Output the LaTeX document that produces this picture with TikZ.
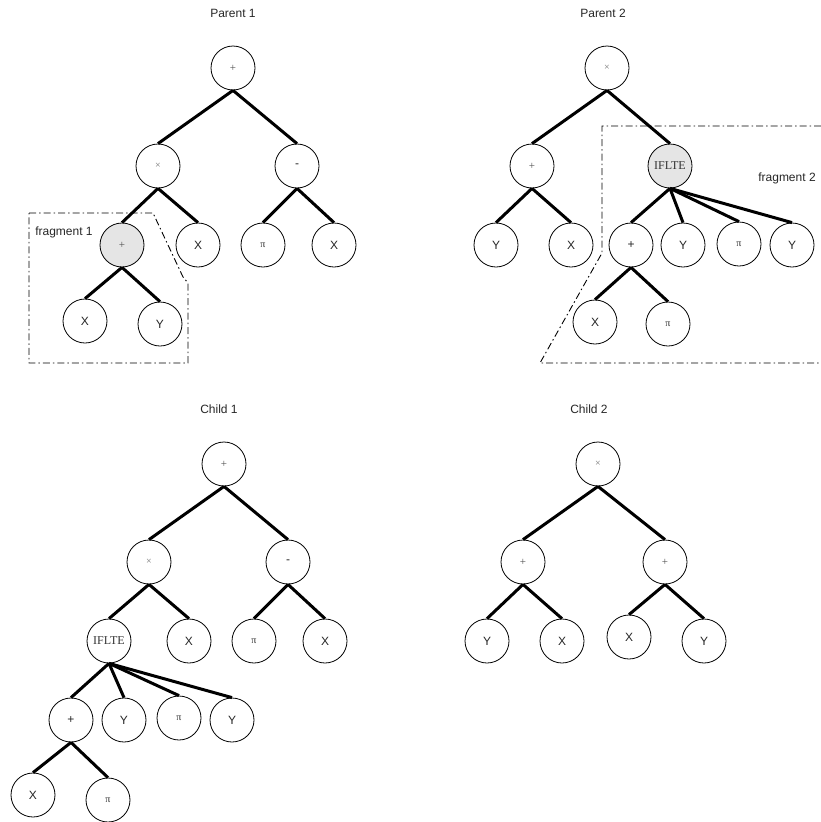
\documentclass[tikz,border=0pt]{standalone}
\usepackage{fontspec}
\setmainfont{Liberation Sans}
\newfontfamily\serifr{Liberation Serif}
\begin{document}
\begin{tikzpicture}[x=1pt,y=-1pt,
  nd/.style={circle,draw,line width=0.8pt,minimum size=44pt,inner sep=0pt,font=\fontsize{12}{14}\selectfont,text=black!85},
  hl/.style={nd,fill=black!10},
  op/.style={font=\serifr\fontsize{11}{13}\selectfont,text=black!70},
  tm/.style={font=\serifr\fontsize{10}{12}\selectfont,text=black!55},
  pi/.style={font=\serifr\fontsize{10}{12}\selectfont},
  ifl/.style={font=\serifr\fontsize{12}{14}\selectfont,text=black!80},
  edge/.style={line width=3pt},
  frag/.style={line width=0.9pt,dash pattern=on 7pt off 3pt on 1.5pt off 3pt},
  ttl/.style={font=\fontsize{12}{14}\selectfont,text=black!85}]
\useasboundingbox (0,0) rectangle (821,822);

% ---------- Parent 1 ----------
\node[ttl] (t1) at (233,13) {Parent 1};
\node[nd,op] (a) at (233,68) {+};
\node[nd,tm] (b) at (158,166) {×};
\node[nd] (c) at (297,166) {-};
\node[hl,op] (d) at (122,245) {+};
\node[nd] (e) at (198,245) {X};
\node[nd,pi] (f) at (263,245) {π};
\node[nd] (g) at (334,245) {X};
\node[nd] (h) at (85,321) {X};
\node[nd] (i) at (160,324) {Y};
\draw[edge] (a.south) -- (b.north);
\draw[edge] (a.south) -- (c.north);
\draw[edge] (b.south) -- (d.north);
\draw[edge] (b.south) -- (e.north);
\draw[edge] (c.south) -- (f.north);
\draw[edge] (c.south) -- (g.north);
\draw[edge] (d.south) -- (h.north);
\draw[edge] (d.south) -- (i.north);
\coordinate (f1a) at (29,213);
\coordinate (f1b) at (153,213);
\coordinate (f1c) at (183,277);
\coordinate (f1d) at (188,283);
\coordinate (f1e) at (188,363);
\coordinate (f1f) at (29,363);
\draw[frag] (f1a) -- (f1b) -- (f1c) -- (f1d) -- (f1e) -- (f1f) -- cycle;
\node[ttl] (fr1) at (64,232) {fragment 1};

% ---------- Parent 2 ----------
\node[ttl] (t2) at (603,13) {Parent 2};
\node[nd,tm] (pa) at (607,68) {×};
\node[nd,op] (pb) at (532,166) {+};
\node[hl,ifl] (pc) at (670,166) {IFLTE};
\node[nd] (pd) at (496,245) {Y};
\node[nd] (pe) at (571,245) {X};
\node[nd] (pf) at (631,245) {+};
\node[nd] (pg) at (683,245) {Y};
\node[nd,pi] (ph) at (739,244) {π};
\node[nd] (pi2) at (792,245) {Y};
\node[nd] (pj) at (595,322) {X};
\node[nd,pi] (pk) at (668,324) {π};
\draw[edge] (pa.south) -- (pb.north);
\draw[edge] (pa.south) -- (pc.north);
\draw[edge] (pb.south) -- (pd.north);
\draw[edge] (pb.south) -- (pe.north);
\draw[edge] (pc.south) -- (pf.north);
\draw[edge] (pc.south) -- (pg.north);
\draw[edge] (pc.south) -- (ph.north);
\draw[edge] (pc.south) -- (pi2.north);
\draw[edge] (pf.south) -- (pj.north);
\draw[edge] (pf.south) -- (pk.north);
\coordinate (f2a) at (821,126);
\coordinate (f2b) at (602,126);
\coordinate (f2c) at (602,253);
\coordinate (f2d) at (540,363);
\coordinate (f2e) at (821,363);
\draw[frag] (f2a) -- (f2b) -- (f2c) -- (f2d) -- (f2e);
\node[ttl] (fr2) at (787,178) {fragment 2};

% ---------- Child 1 ----------
\node[ttl] (t3) at (219,409) {Child 1};
\node[nd,op] (ca) at (224,464) {+};
\node[nd,tm] (cb) at (149,562) {×};
\node[nd] (cc) at (288,562) {-};
\node[nd,ifl] (cd) at (109,641) {IFLTE};
\node[nd] (ce) at (189,641) {X};
\node[nd,pi] (cf) at (254,641) {π};
\node[nd] (cg) at (325,641) {X};
\node[nd] (ch) at (71,720) {+};
\node[nd] (ci) at (124,720) {Y};
\node[nd,pi] (cj) at (179,718) {π};
\node[nd] (ck) at (232,720) {Y};
\node[nd] (cl) at (33,795) {X};
\node[nd,pi] (cm) at (108,800) {π};
\draw[edge] (ca.south) -- (cb.north);
\draw[edge] (ca.south) -- (cc.north);
\draw[edge] (cb.south) -- (cd.north);
\draw[edge] (cb.south) -- (ce.north);
\draw[edge] (cc.south) -- (cf.north);
\draw[edge] (cc.south) -- (cg.north);
\draw[edge] (cd.south) -- (ch.north);
\draw[edge] (cd.south) -- (ci.north);
\draw[edge] (cd.south) -- (cj.north);
\draw[edge] (cd.south) -- (ck.north);
\draw[edge] (ch.south) -- (cl.north);
\draw[edge] (ch.south) -- (cm.north);

% ---------- Child 2 ----------
\node[ttl] (t4) at (589,409) {Child 2};
\node[nd,tm] (da) at (598,464) {×};
\node[nd,op] (db) at (523,562) {+};
\node[nd,op] (dc) at (665,562) {+};
\node[nd] (dd) at (487,641) {Y};
\node[nd] (de) at (562,641) {X};
\node[nd] (df) at (629,637) {X};
\node[nd] (dg) at (704,641) {Y};
\draw[edge] (da.south) -- (db.north);
\draw[edge] (da.south) -- (dc.north);
\draw[edge] (db.south) -- (dd.north);
\draw[edge] (db.south) -- (de.north);
\draw[edge] (dc.south) -- (df.north);
\draw[edge] (dc.south) -- (dg.north);
\end{tikzpicture}
\end{document}
